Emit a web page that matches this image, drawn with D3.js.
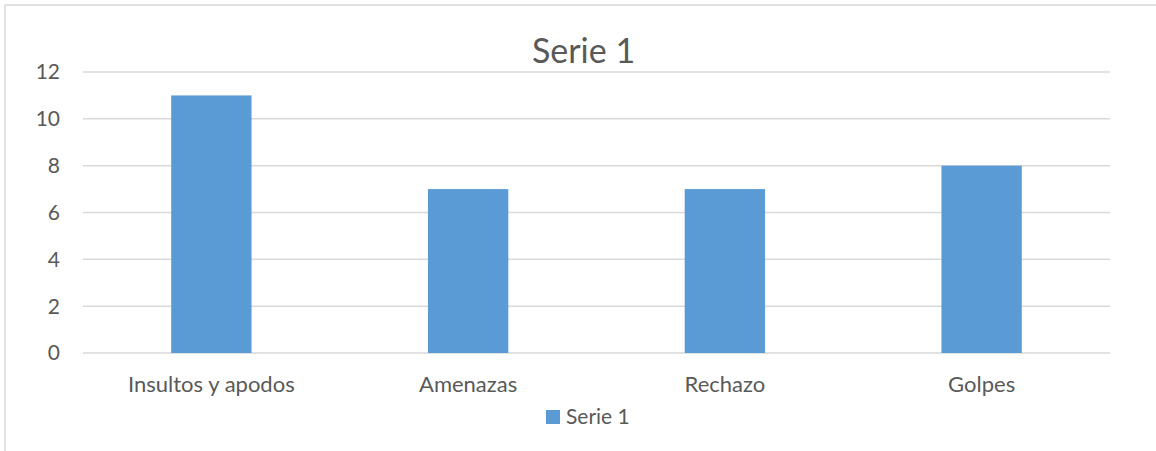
<!DOCTYPE html>
<html>
<head>
<meta charset="utf-8">
<script src="https://cdn.jsdelivr.net/npm/d3@7"></script>
<style>
  body { margin: 0; background: #fff; }
  text { font-family: Lato, "Open Sans", sans-serif; fill: #595959; }
</style>
</head>
<body>
<svg id="chart"></svg>
<script>
// data
var categories = ["Insultos y apodos", "Amenazas", "Rechazo", "Golpes"]
var serie1 = [11, 7, 7, 8]
var yTicks = [0, 2, 4, 6, 8, 10, 12]
var seriesName = "Serie 1"

var width = 1156, height = 451
var plot = {left: 83, right: 1110, top: 72, bottom: 353}

var svg = d3.select("#chart")
    .attr("width", width)
    .attr("height", height)

// outer chart frame (cut off on right / bottom like the original)
svg.append("rect")
    .attr("x", 5).attr("y", 5)
    .attr("width", width + 20).attr("height", height + 20)
    .attr("fill", "none")
    .attr("stroke", "#d9d9d9")
    .attr("stroke-width", 1.5)

var x = d3.scaleBand()
    .domain(categories)
    .range([plot.left, plot.right])
    .paddingInner(0.687)
    .paddingOuter(0.687 / 2)

var y = d3.scaleLinear()
    .domain([0, 12])
    .range([plot.bottom, plot.top])

// gridlines
svg.append("g")
  .selectAll("line")
  .data(yTicks)
  .enter().append("line")
    .attr("x1", plot.left)
    .attr("x2", plot.right)
    .attr("y1", d => y(d))
    .attr("y2", d => y(d))
    .attr("stroke", "#d9d9d9")
    .attr("stroke-width", 1.5)

// y axis labels
svg.append("g")
  .selectAll("text")
  .data(yTicks)
  .enter().append("text")
    .attr("x", 60)
    .attr("y", d => y(d))
    .attr("dy", "0.35em")
    .attr("text-anchor", "end")
    .style("font-size", "21px")
    .text(d => d)

// bars
svg.append("g")
  .selectAll("rect")
  .data(serie1)
  .enter().append("rect")
    .attr("x", (d, i) => x(categories[i]))
    .attr("y", d => y(d))
    .attr("width", x.bandwidth())
    .attr("height", d => y(0) - y(d))
    .attr("fill", "#5b9bd5")

// x axis labels
svg.append("g")
  .selectAll("text")
  .data(categories)
  .enter().append("text")
    .attr("x", d => x(d) + x.bandwidth() / 2)
    .attr("y", 392)
    .attr("text-anchor", "middle")
    .style("font-size", "22px")
    .text(d => d)

// title
svg.append("text")
    .attr("x", (plot.left + plot.right) / 2 - 13)
    .attr("y", 63)
    .attr("text-anchor", "middle")
    .style("font-size", "34px")
    .text(seriesName)

// legend
var legend = svg.append("g")
legend.append("rect")
    .attr("x", 546).attr("y", 410)
    .attr("width", 14).attr("height", 14)
    .attr("fill", "#5b9bd5")
legend.append("text")
    .attr("x", 566)
    .attr("y", 424)
    .style("font-size", "21px")
    .text(seriesName)
</script>
</body>
</html>
